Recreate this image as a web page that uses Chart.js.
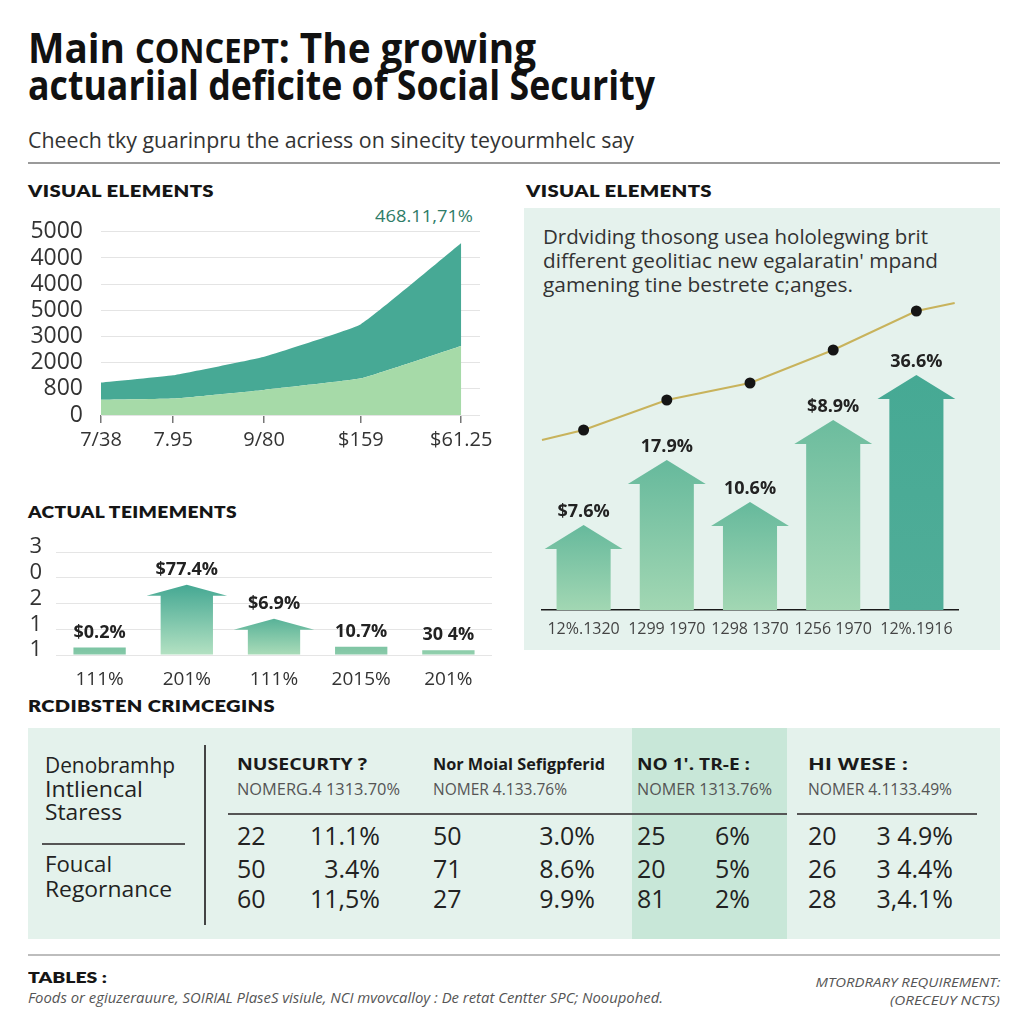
<!DOCTYPE html>
<html><head><meta charset="utf-8">
<script src="https://cdn.jsdelivr.net/npm/chart.js@4.4.1/dist/chart.umd.min.js"></script>
<style>
html,body{margin:0;padding:0;background:#fff;}
body{width:1024px;height:1024px;position:relative;overflow:hidden;font-family:'Open Sans',sans-serif;color:#222;}
.t{position:absolute;left:0;top:0;white-space:nowrap;line-height:1.2;}
.box{position:absolute;}
canvas{position:absolute;}
</style></head><body>
<script>
// ---------- DATA ----------
// Top-left area chart
const areaX = [0, 1, 2.26, 3.6, 4.99];
const areaXLabels = ["7/38", "7.95", "9/80", "$159", "$61.25"];
const areaYLabels = ["0", "800", "2000", "3000", "5000", "4000", "4000", "5000"];
const areaLower = [0.58, 0.63, 0.96, 1.40, 2.64];
const areaUpper = [1.24, 1.52, 2.23, 3.47, 6.57];

// Right arrow-bar + trend line chart
const arrowCats = ["12%.1320", "1299 1970", "1298 1370", "1256 1970", "12%.1916"];
const arrowValues = [8.5, 15.0, 10.8, 19.0, 23.5];
const arrowLabels = ["$7.6%", "17.9%", "10.6%", "$8.9%", "36.6%"];
const trendX = [0, 0.5, 1.5, 2.5, 3.5, 4.5, 4.96];
const trendY = [17.0, 18.0, 21.0, 22.7, 26.0, 29.9, 30.7];

// Bottom-left arrow-bar chart
const actualCats = ["111%", "201%", "111%", "2015%", "201%"];
const actualValues = [0.29, 2.73, 1.41, 0.32, 0.18];
const actualLabels = ["$0.2%", "$77.4%", "$6.9%", "10.7%", "30 4%"];
const actualHasHead = [false, true, true, false, false];
const actualYLabels = ["1", "1", "2", "0", "3"];

// Table
const rowLabelsTop = ["Denobramhp", "Intliencal", "Staress"];
const rowLabelsBottom = ["Foucal", "Regornance"];
const colHeads = ["NUSECURTY ?", "Nor Moial Sefigpferid", "NO 1'. TR-E :", "HI WESE :"];
const colSubs = ["NOMERG.4 1313.70%", "NOMER 4.133.76%", "NOMER 1313.76%", "NOMER 4.1133.49%"];
const colNums = [[22, 50, 60], [50, 71, 27], [25, 20, 81], [20, 26, 28]];
const colPcts = [["11.1%", "3.4%", "11,5%"], ["3.0%", "8.6%", "9.9%"], ["6%", "5%", "2%"], ["3 4.9%", "3 4.4%", "3,4.1%"]];

// ---------- HELPERS ----------
const root = document.body;
function box(x, y, w, h, bg) {
  const d = document.createElement('div');
  d.className = 'box';
  Object.assign(d.style, {left: x + 'px', top: y + 'px', width: w + 'px', height: h + 'px', background: bg});
  root.appendChild(d);
  return d;
}
function txt(s, o) {
  const el = document.createElement('div');
  el.className = 't';
  el.style.fontSize = o.size + 'px';
  el.style.fontWeight = o.weight || 400;
  if (o.family) el.style.fontFamily = o.family;
  if (o.italic) el.style.fontStyle = 'italic';
  el.style.color = o.color || '#222';
  if (o.ls) el.style.letterSpacing = o.ls + 'px';
  if (o.html) el.innerHTML = s; else el.textContent = s;
  const mk = document.createElement('span');
  mk.style.display = 'inline-block'; mk.style.width = '0px'; mk.style.height = '0px';
  el.appendChild(mk);
  root.appendChild(el);
  const base = mk.offsetTop;
  el.style.top = (o.b - base) + 'px';
  const w = el.getBoundingClientRect().width;
  const isRight = o.right !== undefined;
  el.style.left = (isRight ? o.right - w : o.x) + 'px';
  if (o.w) {
    el.style.transformOrigin = isRight ? 'right center' : 'left center';
    el.style.transform = 'scaleX(' + (o.w / w) + ')';
  }
  return el;
}
function mkCanvas(x, y, w, h) {
  const c = document.createElement('canvas');
  c.width = w; c.height = h;
  Object.assign(c.style, {left: x + 'px', top: y + 'px', width: w + 'px', height: h + 'px'});
  root.appendChild(c);
  return c;
}
function makeArrowPlugin(cfg) {
  return {
    id: 'arrows_' + cfg.name,
    beforeDatasetsDraw(chart) {
      const idx = chart.data.datasets.findIndex(d => (d.type || chart.config.type) === 'bar');
      const meta = chart.getDatasetMeta(idx);
      const ctx = chart.ctx;
      ctx.save();
      meta.data.forEach((bar, i) => {
        const p = bar.getProps(['x', 'y', 'base', 'width'], true);
        const x = p.x, top = p.y, base = p.base, w = p.width;
        const hh = cfg.heads[i] ? cfg.headH : 0;
        const hw = w * cfg.headRatio / 2;
        const g = ctx.createLinearGradient(0, top, 0, base);
        g.addColorStop(0, cfg.top[i]); g.addColorStop(1, cfg.bottom[i]);
        ctx.fillStyle = g;
        ctx.beginPath();
        if (hh) {
          ctx.moveTo(x - w / 2, base);
          ctx.lineTo(x - w / 2, top + hh);
          ctx.lineTo(x - hw, top + hh);
          ctx.lineTo(x, top);
          ctx.lineTo(x + hw, top + hh);
          ctx.lineTo(x + w / 2, top + hh);
          ctx.lineTo(x + w / 2, base);
          ctx.closePath();
        } else {
          ctx.rect(x - w / 2, top, w, base - top);
        }
        ctx.fill();
        ctx.font = cfg.font;
        ctx.fillStyle = cfg.labelColor;
        ctx.textAlign = 'center';
        ctx.textBaseline = 'middle';
        ctx.fillText(cfg.labels[i], x, top - cfg.gap);
      });
      ctx.restore();
    }
  };
}

Chart.defaults.font.family = "'Open Sans', sans-serif";
Chart.defaults.color = '#333';

// ---------- STATIC LAYOUT ----------
box(524, 208, 476, 442, '#e5f2ed');
box(28, 728, 972, 211, '#e4f2ec');
box(632, 728, 155, 211, '#c8e7d8');
box(28, 162, 972, 1.5, '#9a9a9a');
box(28, 954, 972, 1.5, '#bdbdbd');
box(204, 745, 1.5, 180, '#444');
box(42, 843, 143, 1.5, '#555');
box(228, 813, 559, 1.5, '#555');
box(797, 813, 180, 1.5, '#555');

// Title block
txt('Main <span style="font-size:0.8em">CONCEPT</span>: The growing', {html: true, x: 28, b: 63, size: 42, weight: 700, w: 508, color: '#111'});
txt('actuariial deficite of Social Security', {x: 28, b: 100, size: 42, weight: 700, w: 627, color: '#111'});
txt('Cheech tky guarinpru the acriess on sinecity teyourmhelc say', {x: 28, b: 148, size: 22, w: 606, color: '#333'});

// Section headers
const H = {size: 16, weight: 800, family: "Lato, 'Open Sans', sans-serif", color: '#151515', ls: 0.3};
txt('VISUAL ELEMENTS', Object.assign({x: 28, b: 197, w: 186}, H));
txt('VISUAL ELEMENTS', Object.assign({x: 526, b: 197, w: 186}, H));
txt('ACTUAL TEIMEMENTS', Object.assign({x: 28, b: 518, w: 209}, H));
txt('RCDIBSTEN CRIMCEGINS', Object.assign({x: 28, b: 712, w: 247}, H));

txt('468.11,71%', {x: 375, b: 222, size: 16, w: 98, color: '#2e7c68'});

// Right paragraph
txt('Drdviding thosong usea hololegwing brit', {x: 543, b: 244, size: 20, w: 385, color: '#333'});
txt("different geolitiac new egalaratin' mpand", {x: 543, b: 268, size: 20, w: 395, color: '#333'});
txt('gamening tine bestrete c;anges.', {x: 543, b: 292, size: 20, w: 310, color: '#333'});

// Table text
const rowTopW = [130, 98, 77], rowTopB = [773, 797, 820];
rowLabelsTop.forEach((s, i) => txt(s, {x: 45, b: rowTopB[i], size: 21, w: rowTopW[i], color: '#222'}));
const rowBotW = [67, 127], rowBotB = [872, 897];
rowLabelsBottom.forEach((s, i) => txt(s, {x: 45, b: rowBotB[i], size: 21, w: rowBotW[i], color: '#222'}));
const colX = [237, 433, 637, 808], colHeadW = [130, 172, 113, 100], colSubW = [163, 134, 135, 144];
const pctRight = [380, 595, 750, 953], rowB = [845, 878, 908];
colHeads.forEach((s, c) => {
  txt(s, {x: colX[c], b: 770, size: 16, weight: 700, w: colHeadW[c], color: '#1a1a1a'});
  txt(colSubs[c], {x: colX[c], b: 795, size: 16, w: colSubW[c], color: '#555'});
  colNums[c].forEach((n, r) => {
    txt(String(n), {x: colX[c], b: rowB[r], size: 25, color: '#222'});
    txt(colPcts[c][r], {right: pctRight[c], b: rowB[r], size: 25, color: '#222'});
  });
});

// Footer
txt('TABLES :', {x: 28, b: 983, size: 15, weight: 800, family: "Lato, 'Open Sans', sans-serif", w: 79, color: '#151515'});
txt('Foods or egiuzerauure, SOIRIAL PlaseS visiule, NCI mvovcalloy : De retat Centter SPC; Nooupohed.', {x: 28, b: 1003, size: 14, italic: true, w: 635, color: '#555'});
txt('MTORDRARY REQUIREMENT:', {right: 1000, b: 987, size: 13, italic: true, w: 185, color: '#555'});
txt('(ORECEUY NCTS)', {right: 1000, b: 1005, size: 13, italic: true, w: 110, color: '#555'});

// ---------- CHART 1: area ----------
new Chart(mkCanvas(0, 200, 500, 260), {
  type: 'line',
  data: {datasets: [
    {data: areaX.map((x, i) => ({x, y: areaLower[i]})), fill: 'origin', backgroundColor: '#a6daa8', borderWidth: 0, pointRadius: 0, tension: 0.1},
    {data: areaX.map((x, i) => ({x, y: areaUpper[i]})), fill: '-1', backgroundColor: '#47a995', borderWidth: 0, pointRadius: 0, tension: 0.1}
  ]},
  options: {
    responsive: false, animation: false, events: [],
    layout: {padding: {top: 26, right: 20, left: 0, bottom: 0}},
    plugins: {legend: {display: false}, tooltip: {enabled: false}},
    scales: {
      x: {type: 'linear', min: 0, max: 5.25,
        afterBuildTicks: s => { s.ticks = areaX.map(v => ({value: v})); },
        afterFit: s => { s.height = 45; },
        ticks: {callback: (v, i) => areaXLabels[i], font: {size: 20}, color: '#333', padding: 5, maxRotation: 0, autoSkip: false},
        grid: {drawOnChartArea: false, drawTicks: true, tickLength: 8, color: '#777', lineWidth: 1.5},
        border: {display: false}},
      y: {min: 0, max: 7, afterFit: s => { s.width = 101; },
        ticks: {stepSize: 1, autoSkip: false, callback: v => areaYLabels[v], font: {size: 23}, color: '#333', padding: 18},
        grid: {color: '#e4e4e4', drawTicks: false},
        border: {display: false}}
    }
  }
});

// ---------- CHART 2: arrows + trend ----------
new Chart(mkCanvas(522, 208, 478, 442), {
  type: 'bar',
  data: {labels: arrowCats, datasets: [
    {type: 'line', data: trendX.map((x, i) => ({x, y: trendY[i]})), xAxisID: 'x2',
      borderColor: '#c8b35c', borderWidth: 2,
      pointRadius: trendX.map((x, i) => (i === 0 || i === trendX.length - 1) ? 0 : 5.5),
      pointBackgroundColor: '#151515', pointBorderWidth: 0, tension: 0, clip: false, order: 0},
    {type: 'bar', data: arrowValues, backgroundColor: 'rgba(0,0,0,0)', grouped: false, barPercentage: 0.65, categoryPercentage: 1, order: 1}
  ]},
  options: {
    responsive: false, animation: false, events: [],
    layout: {padding: {top: 92, right: 42, left: 20, bottom: 0}},
    plugins: {legend: {display: false}, tooltip: {enabled: false}},
    scales: {
      x: {type: 'category', offset: true, grid: {display: false, drawTicks: false},
        border: {display: true, color: '#1a1a1a', width: 1.5},
        ticks: {font: {size: 16}, color: '#444', padding: 10, maxRotation: 0, autoSkip: false},
        afterFit: s => { s.height = 40; }},
      x2: {type: 'linear', min: 0, max: 5, offset: false, display: false},
      y: {min: 0, max: 31, display: false}
    }
  },
  plugins: [makeArrowPlugin({name: 'r', heads: [true, true, true, true, true], headH: 24, headRatio: 1.44,
    top: ['#66b99c', '#66b99c', '#66b99c', '#6cbc9e', '#46a994'],
    bottom: ['#a2d7b3', '#a2d7b3', '#a2d7b3', '#a4d8b4', '#50ad98'],
    labels: arrowLabels, gap: 13, font: "700 18px 'Open Sans', sans-serif", labelColor: '#222'})]
});

// ---------- CHART 3: actual arrows ----------
new Chart(mkCanvas(0, 525, 500, 170), {
  type: 'bar',
  data: {labels: actualCats, datasets: [
    {data: actualValues, backgroundColor: 'rgba(0,0,0,0)', barPercentage: 0.6, categoryPercentage: 1}
  ]},
  options: {
    responsive: false, animation: false, events: [],
    layout: {padding: {top: 16.7, right: 8, left: 0, bottom: 0}},
    plugins: {legend: {display: false}, tooltip: {enabled: false}},
    scales: {
      x: {type: 'category', offset: true, grid: {display: false, drawTicks: false}, border: {display: false},
        ticks: {font: {size: 19}, color: '#333', padding: 13, maxRotation: 0, autoSkip: false},
        afterFit: s => { s.height = 40; }},
      y: {min: 0, max: 4, afterFit: s => { s.width = 56; },
        ticks: {stepSize: 1, autoSkip: false, callback: v => actualYLabels[v], font: {size: 22}, color: '#333', padding: 14, labelOffset: -5},
        grid: {color: '#e5e5e5', drawTicks: false}, border: {display: false}}
    }
  },
  plugins: [makeArrowPlugin({name: 'a', heads: actualHasHead, headH: 11, headRatio: 1.54,
    top: ['#7cc4a3', '#45a893', '#58b298', '#7fc5a4', '#8bcca9'],
    bottom: ['#86c9a8', '#b3e1c2', '#a9dbb8', '#8acaa9', '#93d0ae'],
    labels: actualLabels, gap: 15, font: "700 18px 'Open Sans', sans-serif", labelColor: '#222'})]
});
</script>
</body></html>
